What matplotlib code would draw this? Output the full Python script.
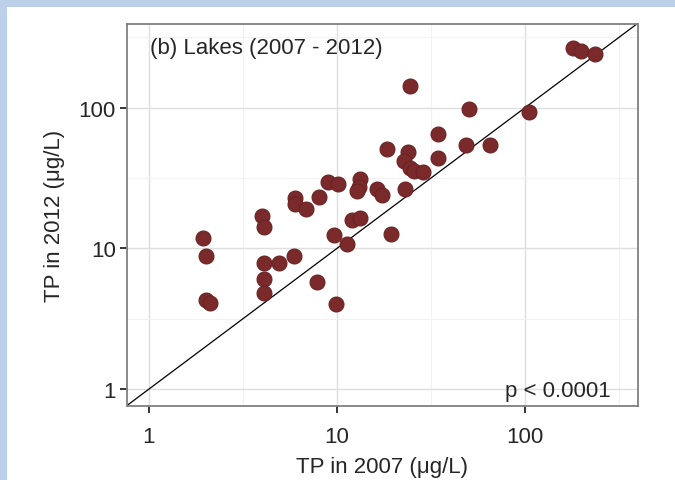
import matplotlib
matplotlib.use("Agg")
import matplotlib.pyplot as plt
from matplotlib.patches import Rectangle
from matplotlib.ticker import FixedLocator, NullFormatter

plt.rcParams['font.family'] = ['Liberation Sans', 'DejaVu Sans']

# Total phosphorus per lake, 2007 vs 2012 (µg/L)
tp_2007 = [1.95, 2.0, 2.0, 2.1, 4.0, 4.1, 4.1, 4.9, 5.9, 4.1, 4.1, 7.8,
           6.0, 6.0, 6.8, 8.0, 8.9, 10.1, 9.6, 9.9, 11.3, 12.0, 13.2, 13.3,
           13.0, 12.8, 16.4, 17.3, 18.4, 19.3, 23.0, 23.9, 22.6, 24.4, 25.7,
           28.5, 24.3, 34.5, 34.5, 50.5, 48.5, 64.7, 105.0, 180.0, 198.0, 235.0]
tp_2012 = [11.9, 8.8, 4.3, 4.1, 17.0, 14.2, 7.9, 7.9, 8.8, 6.1, 4.8, 5.8,
           22.8, 20.7, 19.1, 23.2, 29.4, 28.5, 12.4, 4.0, 10.7, 16.0, 16.4, 31.0,
           27.3, 25.5, 26.5, 23.8, 50.4, 12.7, 26.5, 48.0, 42.0, 37.0, 35.5,
           34.6, 142.0, 64.5, 43.8, 97.5, 54.4, 54.4, 93.5, 264.0, 254.0, 240.0]

major_ticks = [1, 10, 100]
tick_labels = ["1", "10", "100"]
minor_grid = [10 ** 0.5, 10 ** 1.5, 10 ** 2.5]
lims = (0.765, 395)

W, H, DPI = 675, 481, 100
fig = plt.figure(figsize=(W / DPI, H / DPI), dpi=DPI)
fig.patch.set_facecolor("#bdd0ea")
# white page area inside the blue frame
fig.patches.append(Rectangle((7 / W, 0), 1 - 7 / W, 1 - 8 / H,
                             transform=fig.transFigure, facecolor="white",
                             edgecolor="none", zorder=-10))

ax = fig.add_axes([127 / W, 74.5 / H, (637.5 - 127) / W, (456.5 - 74.5) / H])
ax.set_zorder(5)
ax.set_facecolor("white")
ax.set_xscale("log")
ax.set_yscale("log")
ax.set_xlim(*lims)
ax.set_ylim(*lims)

ax.xaxis.set_major_locator(FixedLocator(major_ticks))
ax.yaxis.set_major_locator(FixedLocator(major_ticks))
ax.set_xticklabels(tick_labels)
ax.set_yticklabels(tick_labels)
ax.xaxis.set_minor_locator(FixedLocator(minor_grid))
ax.yaxis.set_minor_locator(FixedLocator(minor_grid))
ax.xaxis.set_minor_formatter(NullFormatter())
ax.yaxis.set_minor_formatter(NullFormatter())

ax.grid(True, which="major", color="#dedede", linewidth=1.0)
ax.grid(True, which="minor", color="#f2f2f2", linewidth=0.8)
ax.set_axisbelow(True)

ax.tick_params(which="major", direction="out", length=5, width=1.1,
               color="black", labelsize=16, labelcolor="#262626")
ax.tick_params(axis="x", which="major", pad=10)
ax.tick_params(axis="y", which="major", pad=3)
ax.tick_params(which="minor", length=0)

for sp in ax.spines.values():
    sp.set_color("#808080")
    sp.set_linewidth(1.3)

# 1:1 reference line
ax.plot(lims, lims, color="black", linewidth=0.9, zorder=2)

ax.scatter(tp_2007, tp_2012, s=115, color="#7a2a2a", edgecolor="#6a2222",
           linewidth=0.8, zorder=3)

ax.set_xlabel("TP in 2007 (μg/L)", fontsize=16, color="#262626", labelpad=6)
ax.set_ylabel("TP in 2012 (μg/L)", fontsize=16, color="#262626", labelpad=10)

ax.text(0.045, 0.965, "(b) Lakes (2007 - 2012)", transform=ax.transAxes,
        ha="left", va="top", fontsize=16, color="#262626")
ax.text(0.948, 0.012, "p < 0.0001", transform=ax.transAxes,
        ha="right", va="bottom", fontsize=16, color="#262626")

fig.savefig("out.png", dpi=DPI, facecolor=fig.get_facecolor())
